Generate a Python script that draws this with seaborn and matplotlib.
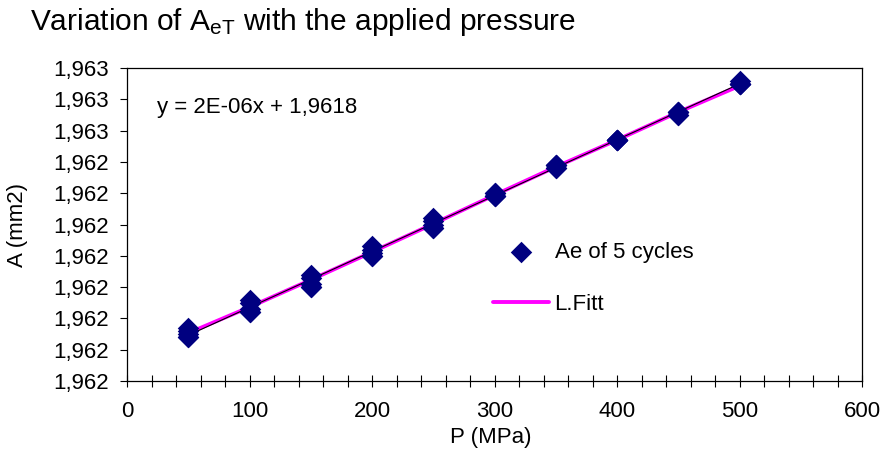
import numpy as np
import pandas as pd
import matplotlib
matplotlib.use("Agg")
import matplotlib.pyplot as plt
import seaborn as sns
from matplotlib.ticker import FixedLocator, FixedFormatter, MultipleLocator

# ---- data ----
pressure = [50, 100, 150, 200, 250, 300, 350, 400, 450, 500]
cycle1 = [1.96197, 1.96206, 1.96214, 1.96223, 1.96232, 1.96240, 1.96249, 1.96257, 1.96266, 1.96276]
cycle2 = [1.96196, 1.96205, 1.96213, 1.96222, 1.96231, 1.96240, 1.96249, 1.96257, 1.96266, 1.96275]
cycle3 = [1.96195, 1.96203, 1.96211, 1.96221, 1.96230, 1.96239, 1.96249, 1.96257, 1.96266, 1.96275]
cycle4 = [1.96194, 1.96202, 1.96210, 1.96220, 1.96229, 1.96239, 1.96248, 1.96257, 1.96265, 1.96275]
cycle5 = [1.96194, 1.96202, 1.96210, 1.96220, 1.96229, 1.96239, 1.96248, 1.96257, 1.96265, 1.96275]
fit_values = [1.961953, 1.962036, 1.962123, 1.962212, 1.962302, 1.962394, 1.962484, 1.962570, 1.962659, 1.962743]
y_ticks = [1.9618, 1.9619, 1.9620, 1.9621, 1.9622, 1.9623, 1.9624, 1.9625, 1.9626, 1.9627, 1.9628]
y_tick_labels = ["1,962"] * 8 + ["1,963"] * 3
x_ticks = [0, 100, 200, 300, 400, 500, 600]
title = r"Variation of A$_{\mathregular{eT}}$ with the applied pressure"
equation = "y = 2E-06x + 1,9618"

cycles = [cycle1, cycle2, cycle3, cycle4, cycle5]
df = pd.DataFrame({
    "P": pressure * len(cycles),
    "A": [v for c in cycles for v in c],
})
df_fit = pd.DataFrame({"P": pressure, "A": fit_values})

sns.set_style("white")
plt.rcParams["font.family"] = ["Liberation Sans", "DejaVu Sans"]
plt.rcParams["mathtext.default"] = "regular"
plt.rcParams["text.color"] = "black"
plt.rcParams["xtick.color"] = "black"
plt.rcParams["ytick.color"] = "black"
plt.rcParams["axes.labelcolor"] = "black"

FS = 16
W, H = 885, 454
fig = plt.figure(figsize=(W / 100, H / 100), dpi=100)
ax = fig.add_axes([127 / W, 1 - 381 / H, (862 - 127) / W, (381 - 68) / H])

sns.lineplot(data=df_fit, x="P", y="A", ax=ax, color="#FF00FF", lw=2.8,
             label="L.Fitt", zorder=2)
sns.regplot(data=df, x="P", y="A", ax=ax, scatter=False, ci=None,
            line_kws=dict(color="black", lw=0.8, zorder=3))
sns.scatterplot(data=df, x="P", y="A", ax=ax, marker="D", s=120,
                color="#000080", edgecolor="#000080", linewidth=0,
                label="Ae of 5 cycles", zorder=4)

ax.set_xlim(0, 600)
ax.set_ylim(1.9618, 1.9628)
ax.xaxis.set_major_locator(FixedLocator(x_ticks))
ax.xaxis.set_minor_locator(MultipleLocator(20))
ax.yaxis.set_major_locator(FixedLocator(y_ticks))
ax.yaxis.set_major_formatter(FixedFormatter(y_tick_labels))
ax.set_xlabel("")
ax.set_ylabel("")

for s in ax.spines.values():
    s.set_color("black")
    s.set_linewidth(0.9)

ax.tick_params(axis="x", which="both", direction="inout", length=9, width=0.8,
               color="black", labelcolor="black", labelsize=FS, pad=10, bottom=True)
ax.tick_params(axis="x", which="minor", labelbottom=False)
ax.tick_params(axis="y", which="major", direction="out", length=5, width=0.8,
               color="black", labelcolor="black", labelsize=FS, pad=8, left=True)

ax.text(24.5, 1.962675, equation, fontsize=FS, va="center", ha="left", color="black")

handles, labels = ax.get_legend_handles_labels()
order = [labels.index("Ae of 5 cycles"), labels.index("L.Fitt")]
leg = ax.legend([handles[i] for i in order], [labels[i] for i in order],
                loc="center left", bbox_to_anchor=(0.498, 0.3275), frameon=False,
                fontsize=FS, handlelength=2.5, handletextpad=0.27, labelspacing=1.4,
                borderpad=0, borderaxespad=0)
for t in leg.get_texts():
    t.set_color("black")

fig.text(30 / W, 1 - 22 / H, title, fontsize=21.5, va="center", ha="left", color="black")
fig.text(17 / W, 1 - 225 / H, "A (mm2)", fontsize=FS, va="center", ha="center",
         rotation=90, color="black")
fig.text(491 / W, 1 - 437 / H, "P (MPa)", fontsize=FS, va="center", ha="center",
         color="black")

fig.savefig("out.png", dpi=100)
